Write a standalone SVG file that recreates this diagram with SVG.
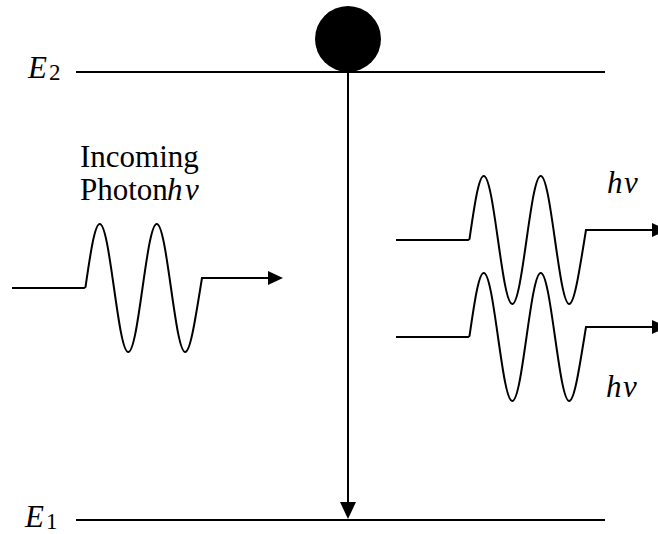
<svg xmlns="http://www.w3.org/2000/svg" width="658" height="534" viewBox="0 0 658 534">
<style>
.ln{stroke:#000;stroke-width:2;fill:none}
</style>
<defs>
<marker id="ah" markerUnits="userSpaceOnUse" markerWidth="16" markerHeight="14" refX="1" refY="7" orient="auto" viewBox="0 0 16 14">
<path d="M0,0 L15,7 L0,14 z" fill="#000"/>
</marker>
<marker id="av" markerUnits="userSpaceOnUse" markerWidth="17" markerHeight="16" refX="1" refY="8" orient="auto" viewBox="0 0 17 16">
<path d="M0,0 L17,8 L0,16 z" fill="#000"/>
</marker>
<path id="wave" class="ln" marker-end="url(#ah)" d="M12,288 H84 L85.5,287 C90.26,254.4 94.62,224 99.75,224 C104.88,224 109.24,254.4 114,288 C118.76,321.6 123.12,352 128.25,352 C133.38,352 137.74,321.6 142.5,288 C147.26,254.4 151.62,224 156.75,224 C161.88,224 166.24,254.4 171,288 C175.76,321.6 180.12,352 185.25,352 C190.5,352 195.5,318 202,278 H269"/>
</defs>
<rect width="658" height="534" fill="#fff"/>
<g id="level-E2">
<line class="ln" x1="76" y1="72" x2="605" y2="72"/>
<text x="28" y="78" style="font-family:'Liberation Serif',serif;font-size:31px;font-style:italic">E</text>
<text x="49" y="80" style="font-family:'Liberation Serif',serif;font-size:23px">2</text>
</g>
<g id="level-E1">
<line class="ln" x1="76" y1="520" x2="605" y2="520"/>
<text x="25" y="527" style="font-family:'Liberation Serif',serif;font-size:31px;font-style:italic">E</text>
<text x="46" y="529" style="font-family:'Liberation Serif',serif;font-size:23px">1</text>
</g>
<g id="electron">
<circle cx="348" cy="39" r="33" fill="#000"/>
</g>
<g id="connectors">
<line class="ln" x1="348" y1="72" x2="348" y2="503" marker-end="url(#av)"/>
</g>
<g id="incoming-photon">
<use href="#wave"/>
<text x="80" y="167" style="font-family:'Liberation Serif',serif;font-size:31px">Incoming</text>
<text x="80" y="200" style="font-family:'Liberation Serif',serif;font-size:31px">Photon</text>
<text x="167" y="200" style="font-family:'Liberation Serif',serif;font-size:31px;font-style:italic">h</text>
<text x="185" y="200" style="font-family:'Liberation Serif',serif;font-size:31px;font-style:italic">ν</text>
</g>
<g id="emitted-photon-1">
<use href="#wave" transform="translate(384,-48)"/>
<text x="607" y="193" style="font-family:'Liberation Serif',serif;font-size:31px;font-style:italic">h</text>
<text x="624" y="193" style="font-family:'Liberation Serif',serif;font-size:31px;font-style:italic">ν</text>
</g>
<g id="emitted-photon-2">
<use href="#wave" transform="translate(384,49)"/>
<text x="606" y="397" style="font-family:'Liberation Serif',serif;font-size:31px;font-style:italic">h</text>
<text x="623" y="397" style="font-family:'Liberation Serif',serif;font-size:31px;font-style:italic">ν</text>
</g>
</svg>
